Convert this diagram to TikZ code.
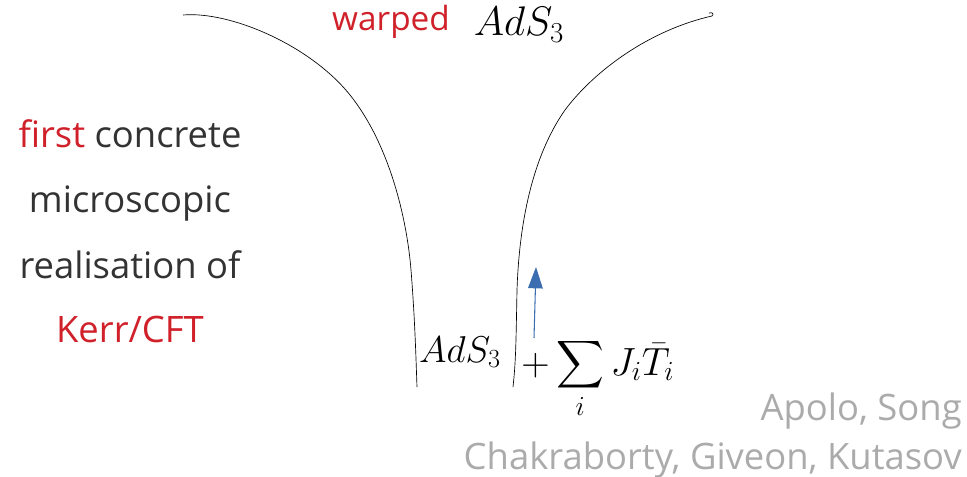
\documentclass[tikz,border=0pt]{standalone}
\usepackage{fix-cm}
\usepackage{amsmath}
\usepackage{fontspec}
\setmainfont{Open Sans}
\usetikzlibrary{arrows.meta}
\definecolor{accentred}{HTML}{D0202A}
\definecolor{bodygray}{HTML}{333333}
\definecolor{citegray}{HTML}{ABABAB}
\definecolor{arrowblue}{HTML}{3A6EB0}
\tikzset{
  sidetext/.style={text=bodygray, font=\fontsize{27.3}{32}\selectfont, inner sep=0pt, anchor=base},
  citetext/.style={text=citegray, font=\fontsize{27.3}{32}\selectfont, inner sep=0pt, anchor=base east},
  mathtext/.style={inner sep=0pt, font=\fontsize{28}{34}\selectfont},
  wall/.style={draw=black, line width=0.5pt},
}
\begin{document}
\begin{tikzpicture}[x=0.75pt,y=-0.75pt]
\useasboundingbox (0,0) rectangle (967,477);
% throat walls
\draw[wall] (183,15) .. controls (230,11) and (310,45) .. (350,95)
  .. controls (390,145) and (407,220) .. (411,270)
  .. controls (415,320) and (416,360) .. (417,387);
\draw[wall] (712,16) .. controls (650,30) and (595,70) .. (565,110)
  .. controls (530,160) and (519,230) .. (517,290)
  .. controls (516,340) and (516,360) .. (513,387);
\draw[wall] (712,16) .. controls (714,14) and (713,12) .. (709,13);
% top labels
\node[anchor=base, text=accentred, inner sep=0pt, font=\fontsize{25}{30}\selectfont] (warped) at (391,31) {warped};
\node[anchor=base, inner sep=0pt, font=\fontsize{31}{36}\selectfont] (wads) at (519,36) {$AdS_3$};
% left text
\node[sidetext] (l1) at (130,148) {\textcolor{accentred}{first} concrete};
\node[sidetext] (l2) at (130,213) {microscopic};
\node[sidetext] (l3) at (130,278) {realisation of};
\node[sidetext, text=accentred] (l4) at (130,342) {Kerr/CFT};
% bottom math
\node[mathtext, anchor=base] (ads) at (460,362) {$AdS_3$};
\node[mathtext, anchor=base west, font=\fontsize{29.5}{34}\selectfont] (def) at (521,375) {$+\displaystyle\sum_i J_i\bar T_i$};
\coordinate (arrtail) at (534,338);
\coordinate (arrtip) at (536,267);
\draw[arrowblue, line width=0.8pt, -{Triangle[length=16pt,width=11pt]}] (arrtail) -- (arrtip);
% citations
\node[citetext] (c1) at (962,420) {Apolo, Song};
\node[citetext] (c2) at (962,469) {Chakraborty, Giveon, Kutasov};
\end{tikzpicture}
\end{document}
